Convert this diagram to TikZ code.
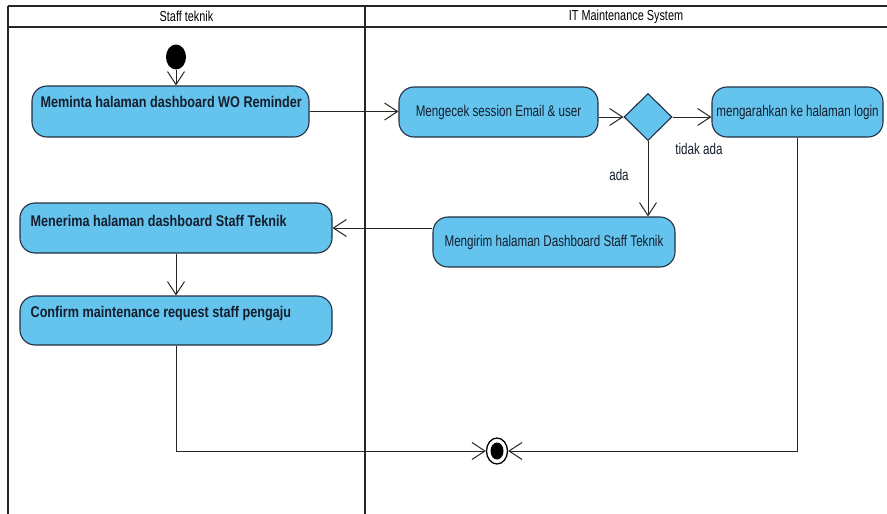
\documentclass[tikz,border=0pt]{standalone}
\usepackage{fontspec}
\setmainfont{Liberation Sans}
\newfontfamily\lanefont{Liberation Sans}[FakeStretch=0.75]
\newfontfamily\actbold{Liberation Sans}[FakeStretch=0.815]
\usetikzlibrary{arrows.meta,shapes.geometric}
\definecolor{actfill}{RGB}{100,196,238}
\definecolor{actline}{RGB}{35,48,65}
\definecolor{acttext}{RGB}{20,30,45}
\tikzset{
  plain/.style={font=\lanefont\fontsize{15.5}{17}\selectfont, text=acttext, inner sep=0pt},
  lanehead/.style={font=\lanefont\fontsize{14.5}{16}\selectfont, text=black, inner sep=0pt},
  strong/.style={font=\actbold\bfseries\fontsize{15.5}{17}\selectfont, text=acttext, inner sep=0pt},
  act/.style={plain, draw=actline, fill=actfill, line width=1.1pt, rounded corners=15pt},
  decision/.style={diamond, draw=actline, fill=actfill, line width=1.1pt, inner sep=0pt,
    minimum width=48pt, minimum height=47pt},
  initial/.style={ellipse, fill=black, inner sep=0pt, minimum width=20pt, minimum height=25pt},
  final/.style={ellipse, draw=black, fill=white, line width=1.3pt, inner sep=0pt,
    minimum width=21pt, minimum height=26pt},
  flow/.style={draw=black!85, line width=1pt, -{Straight Barb[length=13pt,width=17pt]}},
  lane/.style={draw=black!85, line width=2.2pt},
}
\begin{document}
\begin{tikzpicture}[x=1pt,y=-1pt]
  \useasboundingbox (0,0) rectangle (887,514);
  \fill[white] (0,0) rectangle (887,514);

  % swimlanes
  \draw[lane] (8,6) -- (887,6);
  \draw[lane] (8,27) -- (887,27);
  \draw[lane] (8,6) -- (8,514);
  \draw[lane] (365,6) -- (365,514);
  \node[lanehead] (laneA) at (186.5,16.5) {Staff teknik};
  \node[lanehead] (laneB) at (626,16.5) {IT Maintenance System};

  % nodes
  \node[initial] (start) at (176,57) {};
  \node[act, minimum width=277pt, minimum height=51pt] (b1) at (170.5,111.5) {};
  \node[strong, anchor=base west] (t1) at ([xshift=9pt,yshift=-22pt]b1.north west)
    {Meminta halaman dashboard WO Reminder};
  \node[act, minimum width=199pt, minimum height=50pt] (b2) at (498.5,112)
    {Mengecek session Email \& user};
  \node[decision] (dec) at (648,117) {};
  \node[act, minimum width=171pt, minimum height=50pt] (b3) at (797.5,112)
    {mengarahkan ke halaman login};
  \node[act, minimum width=242pt, minimum height=50pt] (b4) at (554,242)
    {Mengirim halaman Dashboard Staff Teknik};
  \node[act, minimum width=312pt, minimum height=50pt] (b5) at (176,228) {};
  \node[strong, anchor=base west] (t5) at ([xshift=11pt,yshift=-24pt]b5.north west)
    {Menerima halaman dashboard Staff Teknik};
  \node[act, minimum width=312pt, minimum height=49pt] (b6) at (176,320.5) {};
  \node[strong, anchor=base west] (t6) at ([xshift=11pt,yshift=-22pt]b6.north west)
    {Confirm maintenance request staff pengaju};
  \node[final] (fin) at (497,451) {};
  \fill (fin.center) ellipse [x radius=6.5pt, y radius=8.5pt];

  % guard labels
  \node[plain] (lno) at (699,149) {tidak ada};
  \node[plain] (lyes) at (619,175) {ada};

  % control flows
  \draw[flow] (start) -- (start |- b1.north);
  \draw[flow] (b1.east) -- (b2.west |- b1.east);
  \draw[flow] (b2.east |- dec) -- (dec.west);
  \draw[flow] (dec.east) -- (dec -| b3.west);
  \draw[flow] (dec.south) -- (dec |- b4.north);
  \draw[flow] (b4.west |- b5.east) -- (b5.east);
  \draw[flow] (b5.south) -- (b6.north);
  \draw[flow] (b6.south) |- (fin.west);
  \draw[flow] (b3.south) |- (fin.east);
\end{tikzpicture}
\end{document}
